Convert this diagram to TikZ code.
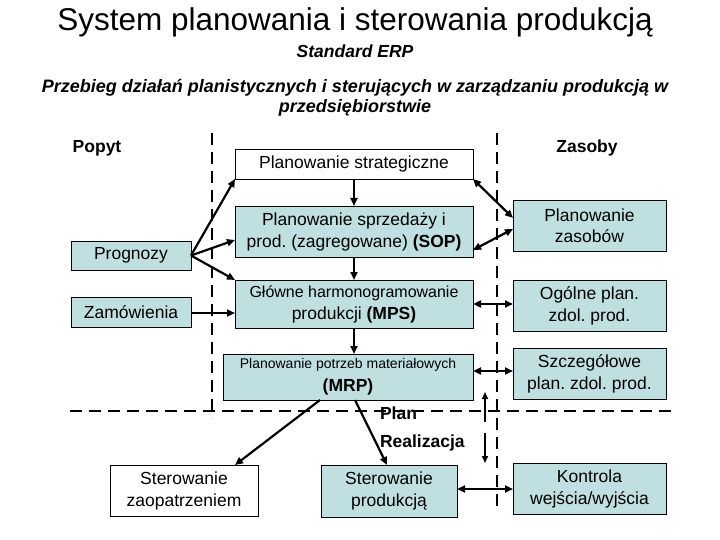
\documentclass[tikz,border=0pt]{standalone}
\usepackage{fontspec}
\setmainfont{Liberation Sans}
\usetikzlibrary{arrows.meta,calc}
\definecolor{boxblue}{RGB}{192,223,225}
\frenchspacing
\begin{document}
\begin{tikzpicture}[x=1pt,y=-1pt,
  every node/.style={inner sep=0pt,outer sep=0pt},
  bx/.style={draw=black,line width=0.9pt,fill=boxblue,align=center,font=\fontsize{17.5}{22}\selectfont},
  wbx/.style={bx,fill=white},
  arr/.style={line width=2.2pt,-{Triangle[length=8pt,width=7pt]}},
  darr/.style={line width=2.2pt,{Triangle[length=8pt,width=7pt]}-{Triangle[length=8pt,width=7pt]}},
  tarr/.style={line width=1.6pt,-{Triangle[length=7pt,width=6pt]}},
  dsh/.style={line width=2.6pt,dash pattern=on 12pt off 7pt},
  lbl/.style={font=\bfseries\fontsize{17.5}{21}\selectfont}
]
\useasboundingbox[fill=white] (0,0) rectangle (720,540);

% titles
\node (title) at (355,22) {\fontsize{31.5}{36}\selectfont System planowania i sterowania produkcją};
\node (std) at (355,51) {\bfseries\itshape\fontsize{17.5}{20}\selectfont Standard ERP};
\node (przeb) at (355,98) [align=center,font=\bfseries\itshape\fontsize{18}{20}\selectfont] {Przebieg działań planistycznych i sterujących w zarządzaniu produkcją w\\ przedsiębiorstwie};

% dashed separators
\coordinate (v1a) at (212,133); \coordinate (v1b) at (212,418);
\coordinate (v2a) at (497,133); \coordinate (v2b) at (497,512);
\coordinate (h1a) at (70,411);  \coordinate (h1b) at (672,411);
\draw[dsh] (v1a) -- (v1b);
\draw[dsh] (v2a) -- (v2b);
\draw[dsh] (h1a) -- (h1b);

% labels
\node[lbl] (popyt) at (97,148) {Popyt};
\node[lbl] (zasoby) at (587,148) {Zasoby};
\node[lbl,anchor=west] (plan) at (380,413) {Plan};
\node[lbl,anchor=west] (real) at (380,443) {Realizacja};

% boxes
\node[wbx,minimum width=238pt,minimum height=30pt] (strat) at (354,164) {Planowanie strategiczne};
\node[bx,minimum width=238pt,minimum height=51pt] (sop) at (354,231.5) {Planowanie sprzedaży i\\prod. (zagregowane) \textbf{(SOP)}};
\node[bx,minimum width=238pt,minimum height=48pt] (mps) at (354,304) {{\fontsize{16}{19}\selectfont Główne harmonogramowanie}\\produkcji \textbf{(MPS)}};
\node[bx,minimum width=250pt,minimum height=46pt] (mrp) at (348,377) {{\fontsize{14}{17}\selectfont Planowanie potrzeb materiałowych}\\[1pt]\textbf{(MRP)}};
\node[bx,minimum width=120pt,minimum height=29pt] (prog) at (131,255.5) {Prognozy};
\node[bx,minimum width=120pt,minimum height=30pt] (zam) at (131,312) {Zamówienia};
\node[bx,minimum width=153pt,minimum height=51pt,font=\fontsize{17.5}{21}\selectfont] (zasob) at (589.5,225.5) {Planowanie\\zasobów};
\node[bx,minimum width=153pt,minimum height=51pt] (ogol) at (589.5,305.5) {Ogólne plan.\\zdol. prod.};
\node[bx,minimum width=153pt,minimum height=51pt] (szcz) at (589.5,373.5) {Szczegółowe\\plan. zdol. prod.};
\node[bx,minimum width=153pt,minimum height=51pt] (kontr) at (589.5,488.5) {Kontrola\\wejścia/wyjścia};
\node[wbx,minimum width=148pt,minimum height=51pt] (zaop) at (184,490.5) {Sterowanie\\zaopatrzeniem};
\node[bx,minimum width=136pt,minimum height=52pt] (prod) at (389,491) {Sterowanie\\produkcją};

% arrows from Prognozy / Zamówienia
\draw[arr] (prog.east) -- (strat.south west);
\draw[arr] (prog.east) -- (sop.west |- 0,240);
\draw[arr] (prog.east) -- (mps.north west);
\draw[arr] (zam.east |- 0,313) -- (mps.west |- 0,313);

% vertical chain
\draw[arr] (strat.south) -- (sop.north);
\draw[arr] (sop.south) -- (mps.north);
\draw[arr] (mps.south) -- (mps.south |- mrp.north);

% resource links
\draw[darr] (strat.south east) -- (zasob.west |- 0,218);
\draw[darr] (sop.east |- 0,250) -- (zasob.west |- 0,229);
\draw[darr] (mps.east |- 0,304) -- (ogol.west |- 0,304);
\draw[darr] (mrp.east |- 0,371) -- (szcz.west |- 0,371);
\draw[darr] (prod.east |- 0,489) -- (kontr.west |- 0,489);

% MRP to execution
\coordinate (m1) at (mrp.south -| 320,0);
\coordinate (m2) at ($(mrp.south)+(7,0)$);
\draw[arr] (m1) -- (zaop.north -| 235,0);
\draw[arr] (m2) -- (prod.north -| 387,0);

% plan / realizacja arrows
\coordinate (u1) at (485,422); \coordinate (u2) at (485,392);
\coordinate (d1) at (485,433); \coordinate (d2) at (485,463);
\draw[tarr] (u1) -- (u2);
\draw[tarr] (d1) -- (d2);
\end{tikzpicture}
\end{document}
